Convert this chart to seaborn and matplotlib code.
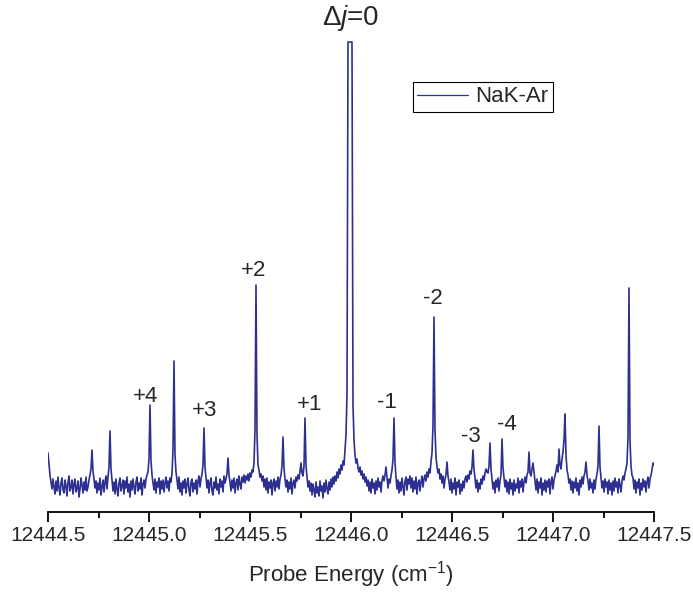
import numpy as np
import pandas as pd
import matplotlib
matplotlib.use('Agg')
import matplotlib.pyplot as plt
from matplotlib.ticker import MultipleLocator, FormatStrFormatter
import seaborn as sns

# ── data ────────────────────────────────────────────────
E_START, E_STOP = 12444.5, 12447.5   # probe energy range (cm^-1)

# signal (a.u.), evenly sampled across E_START..E_STOP (one reading per pixel column)
INTENSITY = [
    3.2, 2.1, 1.0, 0.3, -0.4, 0.6, -0.2, -0.9, 0.4, -0.6, 0.8, -0.3, -1.0, 0.2, 0.7, -0.5, -0.8, 0.5, -0.1, -1.1,
    0.3, 0.9, -0.6, -0.2, 0.5, -0.9, 0.1, 0.6, -0.7, -0.3, 0.4, -1.2, -0.4, 0.7, 0.0, -0.8, 0.3, -0.5, 0.8, -0.6,
    -0.2, 0.5, 1.0, 1.6, 3.5, 1.4, 0.6, -0.3, 0.4, -0.8, 0.2, -0.5, 0.7, -1.0, -0.2, 0.5, -0.7, 0.3, 0.9, -0.4,
    0.8, 1.8, 5.4, 1.6, 0.5, -0.6, 0.3, -0.9, 0.6, -0.4, -1.1, 0.2, 0.7, -0.6, -0.1, 0.5, -0.9, 0.4, -0.3, 0.8,
    -0.7, 0.1, -1.2, 0.4, -0.5, 0.6, -0.2, -0.9, 0.3, 0.8, -0.6, 0.2, -0.4, 0.7, -1.0, 0.1, 0.5, -0.3, 0.6, 1.0,
    1.3, 2.6, 8.0, 2.4, 1.0, 0.2, -0.5, 0.6, -0.8, 0.3, -0.2, 0.7, -0.9, 0.4, -0.4, 0.5, -0.7, 0.2, 0.8, -0.3,
    0.4, -0.6, 0.7, 0.3, 1.2, 3.5, 12.4, 3.0, 1.3, 0.5, -0.4, 0.8, -0.7, 0.2, -1.0, 0.4, -0.3, 0.6, -0.8, 0.1,
    0.7, -0.5, -1.1, 0.3, 0.6, -0.7, 0.2, -0.4, 0.5, -0.9, 0.4, 0.9, -0.2, 0.6, 1.1, 2.0, 5.7, 1.8, 0.7, -0.3,
    0.5, -0.8, 0.2, 0.7, -0.6, -1.0, 0.3, -0.3, 0.8, -0.5, 0.1, -0.9, 0.6, -0.2, 0.4, -0.7, 0.9, 0.2, 0.6, 1.1,
    2.7, 1.0, 0.3, -0.6, 0.5, -0.3, 0.7, -0.8, 0.2, 0.6, -0.5, 0.9, 0.1, -0.4, 0.8, 0.3, 1.0, 0.2, 0.9, 0.5,
    1.1, 0.4, 1.2, 0.8, 1.5, 1.3, 2.2, 5.5, 20.0, 5.0, 2.0, 1.5, 0.8, 1.1, 0.4, 0.9, -0.2, 0.6, -0.5, 0.7,
    -0.8, 0.3, -0.3, 0.5, -1.0, 0.2, 0.6, -0.6, 0.4, -0.2, 0.8, -0.4, 0.6, 1.0, 1.9, 4.8, 1.7, 0.6, -0.2, 0.5,
    -0.7, 0.3, -0.4, 0.7, -0.9, 0.2, 0.5, -0.3, 0.8, 0.4, 1.0, 0.6, 1.4, 2.2, 1.2, 0.9, 1.9, 6.7, 2.0, 0.8,
    -0.2, 0.4, -0.6, 0.2, -1.0, 0.1, -0.5, -1.2, 0.3, -0.8, -0.2, -1.1, 0.4, -0.6, -0.1, -1.3, 0.2, -0.7, 0.5, -0.4,
    -0.9, 0.3, -0.5, 0.6, -0.2, 0.8, 0.1, 0.9, 0.4, 1.3, 0.7, 1.6, 1.1, 2.0, 1.5, 2.4, 2.0, 3.5, 5.0, 9.0,
    44.3, 44.3, 44.3, 44.3, 44.3, 8.0, 4.5, 3.0, 2.2, 2.6, 1.7, 1.3, 1.8, 1.0, 1.4, 0.6, 1.1, 0.3, 0.8, -0.1,
    0.5, -0.6, 0.3, -0.8, 0.6, -0.3, 0.2, -0.9, 0.4, -0.5, 0.7, -0.2, 0.3, -0.7, 0.5, 0.9, 0.4, 1.0, 1.8, 0.8,
    -0.3, 0.6, 0.2, 0.9, 1.5, 2.6, 6.7, 2.2, 0.8, -0.4, 0.5, -0.8, 0.3, -0.6, 0.7, -0.2, -1.0, 0.4, 0.8, -0.5,
    0.6, 0.1, 0.9, -0.3, 0.7, -0.7, 0.4, -0.4, 0.8, -0.9, 0.2, 0.5, -0.6, 0.3, 0.9, -0.2, 0.6, 1.0, 0.4, 1.3,
    0.8, 1.6, 1.2, 2.3, 3.2, 6.0, 16.8, 5.5, 2.8, 1.8, 1.2, 1.6, 0.6, 1.1, 0.2, 0.9, -0.3, 0.6, 1.0, 2.3,
    0.9, 0.3, -0.5, 0.6, -0.8, 0.2, -0.4, 0.7, -1.0, 0.3, -0.2, 0.5, -0.9, 0.1, -0.6, 0.4, -0.3, 0.6, 0.9, 0.3,
    1.0, 0.6, 1.4, 1.1, 1.8, 3.5, 1.5, 0.7, -0.3, 0.5, -0.7, 0.2, -0.4, 0.6, 0.1, 0.9, 0.5, 1.2, 1.6, 1.3,
    1.2, 1.9, 4.2, 1.6, 0.6, -0.4, 0.3, -0.8, 0.5, -0.2, 0.7, -0.6, 0.4, 1.0, 4.6, 1.7, 0.8, -0.2, 0.5, -0.7,
    0.3, -0.9, 0.6, -0.4, 0.2, -1.0, 0.5, -0.6, 0.1, -0.3, 0.7, -0.8, 0.4, -0.2, 0.6, -0.7, 0.3, 0.8, 0.2, 1.0,
    1.3, 3.3, 1.2, 0.9, 1.6, 2.2, 1.3, 0.4, -0.5, 0.6, -0.8, 0.3, -0.3, 0.7, -1.0, 0.2, -0.5, 0.5, -0.7, 0.4,
    -0.2, 0.6, -0.9, 0.3, 0.8, -0.4, 0.5, 0.9, 1.4, 2.0, 1.3, 3.6, 2.0, 1.6, 2.6, 3.3, 4.5, 7.1, 3.0, 1.5,
    1.0, 0.2, 0.6, -0.5, 0.4, -0.8, 0.3, -0.3, 0.7, -0.6, 0.2, -1.0, 0.5, -0.2, 0.8, 0.1, 0.9, 1.3, 2.3, 1.0,
    0.4, -0.5, 0.6, -0.3, 0.2, -0.8, 0.5, -0.4, 0.6, 1.1, 1.9, 5.9, 1.8, 0.8, -0.3, 0.4, -0.7, 0.6, -0.2, 0.3,
    -0.9, 0.5, -0.5, 0.2, -1.0, 0.4, -0.6, 0.7, -0.2, 0.3, -0.8, 0.6, 0.0, -0.7, 0.4, 0.9, 0.5, 1.2, 1.6, 2.2,
    4.8, 19.7, 4.5, 1.9, 1.0, 0.7, -0.4, 0.5, -0.8, 0.3, -0.3, 0.6, -1.0, 0.2, -0.5, 0.6, -0.2, 0.4, -0.7, 0.3,
    0.8, -0.3, 0.6, 1.0, 1.5, 2.2, 2.0,
]

# peak assignments: label, energy, label height
PEAK_LABELS = ["+4", "+3", "+2", "+1", "-1", "-2", "-3", "-4"]
PEAK_ENERGY = [12444.985, 12445.277, 12445.520, 12445.797, 12446.178, 12446.406, 12446.594, 12446.772]
LABEL_Y     = [8.9, 7.5, 21.4, 8.0, 8.2, 18.7, 4.9, 6.0]

LINE_COLOR = "#2d3091"

df = pd.DataFrame({
    "energy": np.linspace(E_START, E_STOP, len(INTENSITY)),
    "signal": INTENSITY,
})

sns.set_style("white")
plt.rcParams['font.family'] = ['Liberation Sans', 'DejaVu Sans']
plt.rcParams['mathtext.fontset'] = 'custom'
plt.rcParams['mathtext.rm'] = 'Liberation Sans'
plt.rcParams['mathtext.it'] = 'Liberation Sans:italic'

fig = plt.figure(figsize=(6.93, 5.92), dpi=100)
ax = fig.add_axes([48 / 693, 80 / 592, 606 / 693, 472 / 592])

sns.lineplot(data=df, x="energy", y="signal", color=LINE_COLOR,
             linewidth=1.2, label="NaK-Ar", ax=ax)

ax.set_xlim(E_START, E_STOP)
ax.set_ylim(-2.7, 44.5)

# only the bottom axis is drawn
for side in ["left", "right", "top"]:
    ax.spines[side].set_visible(False)
ax.spines["bottom"].set_color("black")
ax.spines["bottom"].set_linewidth(1.3)
ax.set_yticks([])
ax.set_ylabel("")

ax.xaxis.set_major_locator(MultipleLocator(0.5))
ax.xaxis.set_minor_locator(MultipleLocator(0.25))
ax.xaxis.set_major_formatter(FormatStrFormatter("%.1f"))
ax.tick_params(axis="x", which="major", direction="out", length=7, width=1.3,
               color="black", labelsize=15, pad=3, bottom=True)
ax.tick_params(axis="x", which="minor", direction="out", length=4, width=1.3,
               color="black", bottom=True)
ax.set_xlabel("Probe Energy (cm$^{-1}$)", fontsize=16, labelpad=10)

for lab, e, y in zip(PEAK_LABELS, PEAK_ENERGY, LABEL_Y):
    ax.text(e, y, lab, fontsize=16, ha="center", va="center")
ax.text(12446.0, 46.7, r"$\Delta$$\mathit{j}$=0", fontsize=20,
        ha="center", va="center", clip_on=False)

leg = ax.legend(loc="upper left", bbox_to_anchor=(0.602, 0.911), borderaxespad=0,
                fontsize=16, fancybox=False, frameon=True, framealpha=1,
                edgecolor="black", handlelength=2.3, handletextpad=0.3,
                borderpad=0.2)
leg.get_frame().set_linewidth(0.8)
leg.get_lines()[0].set_linewidth(0.9)

plt.savefig("out.png", dpi=100)
plt.close()
